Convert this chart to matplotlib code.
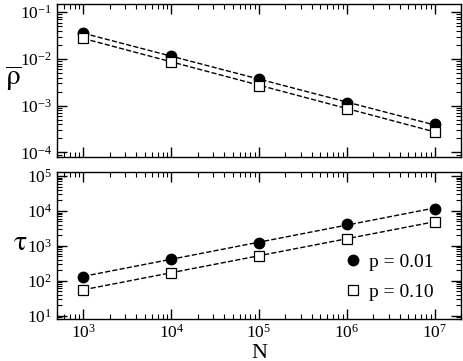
import numpy as np
import matplotlib
matplotlib.use('Agg')
import matplotlib.pyplot as plt

plt.rcParams['font.family'] = ['Liberation Serif', 'DejaVu Serif']
plt.rcParams['mathtext.fontset'] = 'stix'

# data
N = [1e3, 1e4, 1e5, 1e6, 1e7]
rho_p001 = [0.0357, 0.0116, 0.0037, 0.00115, 0.00040]
rho_p010 = [0.028, 0.0086, 0.0027, 0.00087, 0.00028]
tau_p001 = [130, 425, 1230, 4250, 11500]
tau_p010 = [55, 170, 520, 1590, 4900]
labels = ['p = 0.01', 'p = 0.10']


def powerfit(x, y):
    k, c = np.polyfit(np.log10(x), np.log10(y), 1)
    return 10 ** (c + k * np.log10(x))


fig = plt.figure(figsize=(4.63, 3.61), dpi=100)
ax1 = fig.add_axes([0.1231, 0.5651, 0.8726, 0.4238])
ax2 = fig.add_axes([0.1231, 0.1163, 0.8726, 0.4072])

for ax, y1, y2 in [(ax1, rho_p001, rho_p010), (ax2, tau_p001, tau_p010)]:
    ax.plot(N, powerfit(N, y1), '--', color='black', lw=1.0)
    ax.plot(N, powerfit(N, y2), '--', color='black', lw=1.0)
    ax.plot(N, y1, 'o', color='black', ms=7.5, ls='none', label=labels[0])
    ax.plot(N, y2, 's', mfc='white', mec='black', mew=0.9, ms=6.5, ls='none', label=labels[1])
    ax.set_xscale('log')
    ax.set_yscale('log')
    ax.set_xlim(5e2, 2e7)
    ax.tick_params(which='both', direction='in', top=True, right=True, labelsize=12.5)
    ax.tick_params(which='major', length=7, width=1)
    ax.tick_params(which='minor', length=3.5, width=0.8)
    ax.yaxis.set_minor_locator(matplotlib.ticker.LogLocator(base=10, subs=np.arange(2, 10), numticks=20))
    ax.xaxis.set_minor_locator(matplotlib.ticker.LogLocator(base=10, subs=np.arange(2, 10), numticks=20))
    for s in ax.spines.values():
        s.set_linewidth(1.0)

ax1.set_ylim(8e-5, 0.15)
ax1.set_yticks([1e-4, 1e-3, 1e-2, 1e-1])
ax1.tick_params(labelbottom=False)
fig.text(13 / 463, 1 - 78 / 361, r'$\overline{\mathrm{\rho}}$', fontsize=21, ha='center', va='center')

ax2.set_ylim(8, 1.3e5)
ax2.set_yticks([1e1, 1e2, 1e3, 1e4, 1e5])
ax2.set_xticks(N)
fig.text(20 / 463, 1 - 243 / 361, r'$\mathrm{\tau}$', fontsize=20, ha='center', va='center')
fig.text(259 / 463, 1 - 353 / 361, 'N', fontsize=16, ha='center', va='center')
ax2.legend(loc='lower right', frameon=False, fontsize=14, handletextpad=0.4,
           labelspacing=0.65, handlelength=0.8, bbox_to_anchor=(0.975, 0.005))

fig.savefig('out.png', dpi=100)
